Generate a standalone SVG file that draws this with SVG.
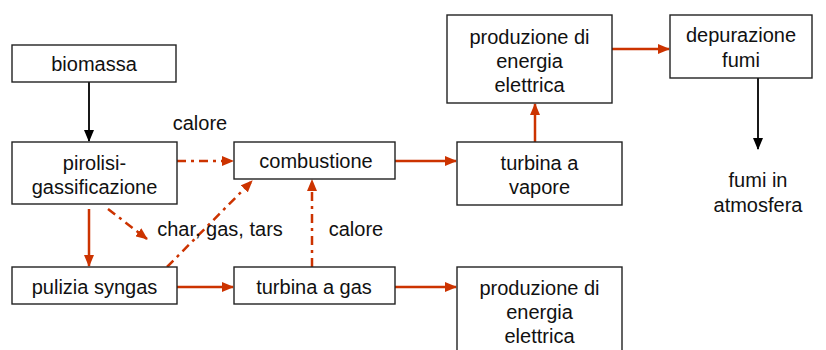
<svg xmlns="http://www.w3.org/2000/svg" width="826" height="350" viewBox="0 0 826 350">
<defs>
<style>
.box{fill:#fff;stroke:#222;stroke-width:1.4}
.t{font-family:"Liberation Sans",Arial,sans-serif;font-size:20px;fill:#111;text-anchor:middle}
.r{stroke:#cc3300;stroke-width:2.5;fill:none}
.rd{stroke:#cc3300;stroke-width:2.5;fill:none;stroke-dasharray:9 5 3 5}
.k{stroke:#000;stroke-width:1.8;fill:none}
</style>
<marker id="ar" markerUnits="userSpaceOnUse" markerWidth="12" markerHeight="10" refX="11" refY="5" orient="auto"><path d="M0,0 L12,5 L0,10 Z" fill="#cc3300"/></marker>
<marker id="ak" markerUnits="userSpaceOnUse" markerWidth="12" markerHeight="10" refX="11" refY="5" orient="auto"><path d="M0,0 L12,5 L0,10 Z" fill="#000"/></marker>
</defs>
<rect width="826" height="350" fill="#fff"/>
<g id="connectors">
<line class="k" x1="89" y1="82" x2="89" y2="141" marker-end="url(#ak)"/>
<line class="k" x1="758" y1="78" x2="758" y2="149" marker-end="url(#ak)"/>
<line class="rd" x1="177" y1="161" x2="233" y2="161" marker-end="url(#ar)"/>
<line class="rd" x1="108" y1="209" x2="147" y2="239" marker-end="url(#ar)"/>
<line class="r" x1="89" y1="209" x2="89" y2="266" marker-end="url(#ar)"/>
<line class="rd" x1="167" y1="267" x2="252" y2="181" marker-end="url(#ar)"/>
<line class="rd" x1="312" y1="267" x2="312" y2="180" marker-end="url(#ar)"/>
<line class="r" x1="177" y1="287" x2="233" y2="287" marker-end="url(#ar)"/>
<line class="r" x1="395" y1="161" x2="456" y2="161" marker-end="url(#ar)"/>
<line class="r" x1="395" y1="287" x2="456" y2="287" marker-end="url(#ar)"/>
<line class="r" x1="535" y1="142" x2="535" y2="104" marker-end="url(#ar)"/>
<line class="r" x1="612" y1="49" x2="669" y2="49" marker-end="url(#ar)"/>
</g>
<g id="biomassa"><rect class="box" x="12" y="45" width="164" height="37"/><text class="t" x="94" y="71">biomassa</text></g>
<g id="pirolisi"><rect class="box" x="12" y="142" width="165" height="62"/><text class="t" x="94.5" y="170">pirolisi-</text><text class="t" x="94.5" y="194">gassificazione</text></g>
<g id="combustione"><rect class="box" x="234" y="142" width="161" height="37"/><text class="t" x="316" y="168">combustione</text></g>
<g id="pulizia"><rect class="box" x="12" y="267" width="165" height="37"/><text class="t" x="94.5" y="294">pulizia syngas</text></g>
<g id="turbinagas"><rect class="box" x="234" y="267" width="161" height="37"/><text class="t" x="314" y="294">turbina a gas</text></g>
<g id="turbinavapore"><rect class="box" x="457" y="142" width="165" height="63"/><text class="t" x="539.5" y="170">turbina a</text><text class="t" x="539.5" y="194">vapore</text></g>
<g id="produzione1"><rect class="box" x="447" y="15" width="165" height="88"/><text class="t" x="529.5" y="44">produzione di</text><text class="t" x="529.5" y="68">energia</text><text class="t" x="529.5" y="92">elettrica</text></g>
<g id="depurazione"><rect class="box" x="670" y="15" width="142" height="63"/><text class="t" x="741" y="42">depurazione</text><text class="t" x="741" y="67">fumi</text></g>
<g id="produzione2"><rect class="box" x="457" y="267" width="165" height="88"/><text class="t" x="539.5" y="295">produzione di</text><text class="t" x="539.5" y="319">energia</text><text class="t" x="539.5" y="343">elettrica</text></g>
<g id="labels">
<text class="t" x="200" y="130">calore</text>
<text class="t" x="356" y="236">calore</text>
<text class="t" x="220" y="236">char, gas, tars</text>
<text class="t" x="758" y="187">fumi in</text>
<text class="t" x="758" y="212">atmosfera</text>
</g>
</svg>
